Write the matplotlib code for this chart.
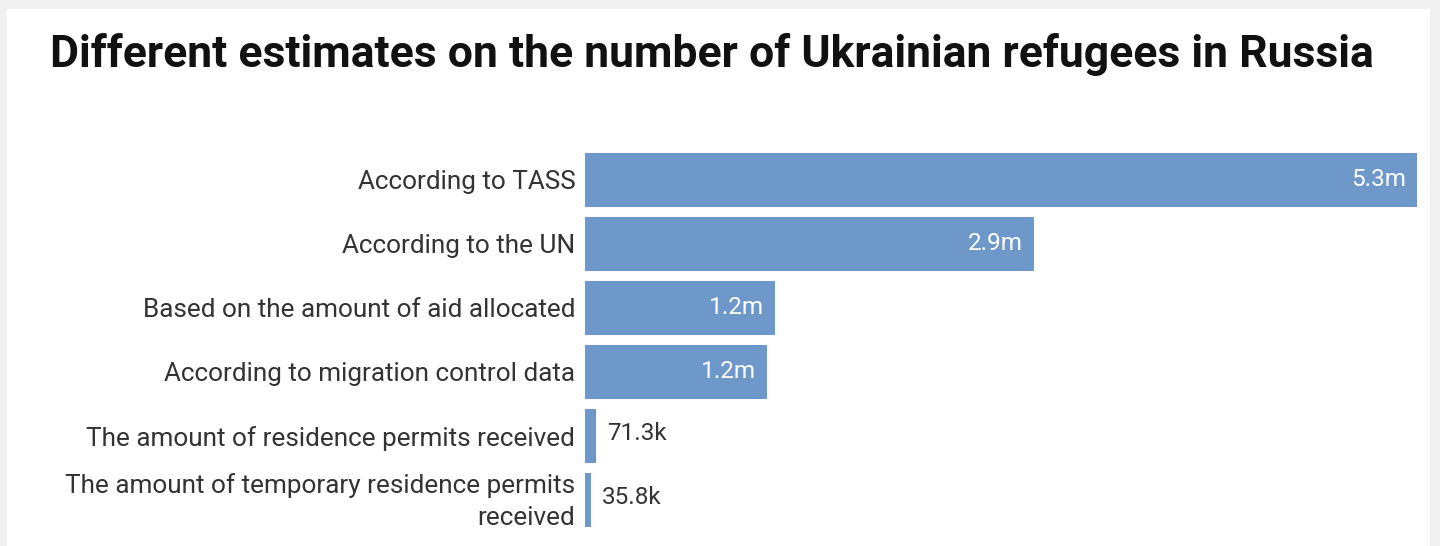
import matplotlib.pyplot as plt
from matplotlib.patches import Rectangle
from matplotlib.transforms import ScaledTranslation

categories = [
    "According to TASS",
    "According to the UN",
    "Based on the amount of aid allocated",
    "According to migration control data",
    "The amount of residence permits received",
    "The amount of temporary residence permits\nreceived",
]
values = [5_300_000, 2_860_000, 1_210_000, 1_160_000, 71_300, 35_800]


def fmt(v):
    if v >= 1_000_000:
        return f"{v/1_000_000:.1f}m"
    return f"{v/1_000:.1f}k"


plt.rcParams['font.family'] = ['Roboto', 'DejaVu Sans']

W, H = 1440, 546
fig = plt.figure(figsize=(W/100, H/100), dpi=100, facecolor='#f0f0f0')

# white card behind the chart
fig.patches.append(Rectangle((7/W, 0), (1430-7)/W, 1 - 9/H, transform=fig.transFigure,
                             facecolor='white', edgecolor='none', zorder=-5))

fig.text(50/W, 1 - 67/H, "Different estimates on the number of Ukrainian refugees in Russia",
         fontsize=32, fontweight='bold', color='#111111', va='baseline', ha='left')

ax = fig.add_axes([585/W, (H-531.5)/H, 832/W, (531.5-148)/H])
ax.set_zorder(2)
ax.set_facecolor('none')
y = range(len(categories))
bars = ax.barh(y, values, height=0.845, color='#6d98c9', edgecolor='none')
ax.set_xlim(0, max(values))
ax.set_ylim(len(categories)-0.5, -0.5)

ax.set_yticks(list(y))
ax.set_yticklabels(categories, fontsize=18.8, color='#333333', linespacing=1.45)
ax.tick_params(axis='y', length=0, pad=7)
ax.set_xticks([])
for s in ax.spines.values():
    s.set_visible(False)

# nudge the two-line label up a little
last = ax.get_yticklabels()[-1]
last.set_transform(last.get_transform() + ScaledTranslation(0, 5/100, fig.dpi_scale_trans))

for b, v in zip(bars, values):
    cy = b.get_y() + b.get_height()/2
    if v > 0.1*max(values):
        ax.annotate(fmt(v), (v, cy), xytext=(-11, 0), textcoords='offset pixels',
                    ha='right', va='center', color='white', fontsize=17.5)
    else:
        ax.annotate(fmt(v), (v, cy), xytext=(11, 2), textcoords='offset pixels',
                    ha='left', va='center', color='#333333', fontsize=17.5)

fig.savefig("out.png", dpi=100, facecolor=fig.get_facecolor())
